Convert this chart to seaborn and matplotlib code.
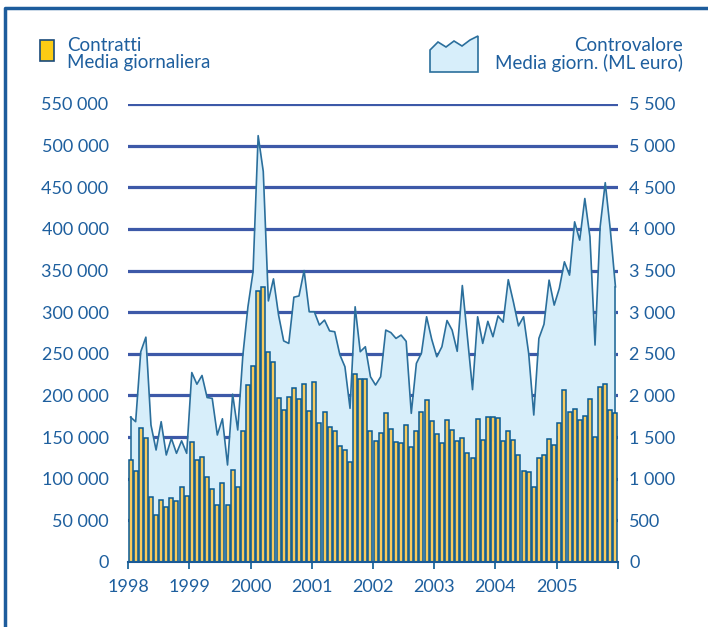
#%%
import numpy as np
import pandas as pd
import matplotlib
matplotlib.use('Agg')
import matplotlib.pyplot as plt
import seaborn as sns
from matplotlib.patches import Rectangle, Polygon
from matplotlib.lines import Line2D
from matplotlib.ticker import FuncFormatter

#%%
# Monthly data 1998-2005
years = ['1998', '1999', '2000', '2001', '2002', '2003', '2004', '2005']

# Contratti - media giornaliera
contratti = [
    122000, 109000, 161000, 149000, 78000, 57000, 75000, 66000, 77000, 73000, 90000, 79000,
    144000, 122000, 126000, 102000, 88000, 68000, 95000, 68000, 110000, 90000, 157000, 212000,
    235000, 326000, 330000, 252000, 240000, 197000, 182000, 198000, 209000, 196000, 214000, 181000,
    216000, 167000, 180000, 162000, 157000, 139000, 135000, 120000, 226000, 220000, 220000, 157000,
    145000, 155000, 179000, 160000, 144000, 143000, 165000, 138000, 157000, 180000, 194000, 169000,
    154000, 143000, 170000, 158000, 145000, 149000, 131000, 125000, 172000, 147000, 174000, 174000,
    173000, 145000, 157000, 146000, 129000, 109000, 108000, 90000, 125000, 129000, 148000, 141000,
    167000, 206000, 180000, 184000, 171000, 175000, 196000, 150000, 210000, 214000, 183000, 179000,
]

# Controvalore - media giornaliera (ML euro)
controvalore = [
    1740, 1685, 2525, 2700, 1645, 1345, 1685, 1285, 1485, 1305, 1455, 1305,
    2275, 2135, 2240, 1975, 1965, 1525, 1720, 1165, 2015, 1585, 2480, 3065,
    3485, 5120, 4690, 3135, 3400, 2965, 2655, 2625, 3180, 3195, 3500, 3005,
    3005, 2845, 2905, 2775, 2765, 2490, 2345, 1845, 3065, 2525, 2585, 2225,
    2125, 2225, 2785, 2755, 2685, 2725, 2650, 1785, 2385, 2510, 2945, 2675,
    2465, 2585, 2900, 2785, 2530, 3320, 2700, 2070, 2945, 2625, 2890, 2705,
    2955, 2880, 3390, 3125, 2835, 2945, 2505, 1765, 2685, 2855, 3385, 3085,
    3285, 3605, 3445, 4085, 3865, 4365, 3905, 2605, 4025, 4555, 3985, 3305,
]

df = pd.DataFrame({'contratti': contratti, 'controvalore': controvalore})
df['pos'] = np.arange(len(df)) + 0.5  # month centre

#%%
blue_txt = '#1e5f9e'
grid_col = '#3d59a8'
area_fill = '#d7eefa'
area_line = '#2b6f9c'
bar_fill = '#f7ca5d'
bar_edge = '#0a5a92'

plt.rcParams['font.family'] = ['Lato', 'DejaVu Sans']

fig = plt.figure(figsize=(7.08, 6.27), dpi=100)
ax2 = fig.add_axes([128 / 708, 65 / 627, 490 / 708, 458 / 627])  # right scale, area
ax = ax2.twinx()                                                 # left scale, bars
ax.yaxis.tick_left()
ax2.yaxis.tick_right()
ax.set_zorder(ax2.get_zorder() + 1)
ax.patch.set_visible(False)

# area (controvalore)
ax2.grid(axis='y', color=grid_col, linewidth=2.3, zorder=0)
ax2.set_axisbelow(True)
ax2.fill_between(df['pos'], 0, df['controvalore'], color=area_fill, zorder=2, linewidth=0)
sns.lineplot(data=df, x='pos', y='controvalore', ax=ax2, color=area_line, linewidth=1.2, zorder=3)
ax2.plot([df['pos'].iloc[0]] * 2, [0, controvalore[0]], color=area_line, lw=1.2, zorder=3)
ax2.plot([df['pos'].iloc[-1]] * 2, [0, controvalore[-1]], color=area_line, lw=1.2, zorder=3)

# bars (contratti)
sns.barplot(data=df, x='pos', y='contratti', native_scale=True, width=0.78, ax=ax,
            color=bar_fill, saturation=1, edgecolor=bar_edge, linewidth=1.1, errorbar=None)

#%%
# axes setup
for a in (ax, ax2):
    a.set_xlim(0, 96)
    a.set_xlabel('')
    a.set_ylabel('')
    for s in a.spines.values():
        s.set_visible(False)
ax.set_ylim(0, 550000)
ax2.set_ylim(0, 5500)

fmt = FuncFormatter(lambda v, p: f'{int(v):,}'.replace(',', ' '))
ax.set_yticks(np.arange(0, 550001, 50000))
ax.yaxis.set_major_formatter(fmt)
ax2.set_yticks(np.arange(0, 5501, 500))
ax2.yaxis.set_major_formatter(fmt)
ax.tick_params(axis='y', length=0, pad=14, labelsize=13, labelcolor=blue_txt)
ax2.tick_params(axis='y', length=0, pad=8, labelsize=13, labelcolor=blue_txt)

# x axis lives on ax2 (the twin hides its own)
ax.xaxis.set_visible(False)
ax2.xaxis.set_visible(True)
ax2.set_xticks(np.arange(0, 97, 12))
ax2.set_xticklabels(years + [''])
ax2.tick_params(axis='x', direction='out', length=5, width=1.2, color=bar_edge,
                pad=7, labelsize=13, labelcolor=blue_txt)
ax.spines['bottom'].set_visible(True)
ax.spines['bottom'].set_color('#1a5a96')
ax.spines['bottom'].set_linewidth(1.5)

#%%
# frame and legend
W, H = 708, 627
def fx(x): return x / W
def fy(y): return 1 - y / H

fig.add_artist(Line2D([fx(5), fx(5), fx(708)], [fy(627), fy(8), fy(8)],
                      color='#1d5c9c', linewidth=2.5))

fig.add_artist(Rectangle((fx(40), fy(61)), 14 / W, 21 / H, facecolor='#fccc14',
                         edgecolor='#1a4a7a', linewidth=1.2))
fig.text(fx(67), fy(37), 'Contratti\nMedia giornaliera', ha='left', va='top',
         fontsize=13.5, color=blue_txt, linespacing=1.0)

icon = [(430, 72), (430, 50), (438, 42), (446, 47), (454, 41), (462, 46), (470, 40),
        (478, 36), (478, 72)]
fig.add_artist(Polygon([(fx(x), fy(y)) for x, y in icon], closed=True,
                       facecolor=area_fill, edgecolor=area_line, linewidth=1.2))
fig.text(fx(683), fy(37), 'Controvalore\nMedia giorn. (ML euro)', ha='right', va='top',
         fontsize=13.5, color=blue_txt, linespacing=1.0, multialignment='right')

fig.savefig('out.png', dpi=100)
